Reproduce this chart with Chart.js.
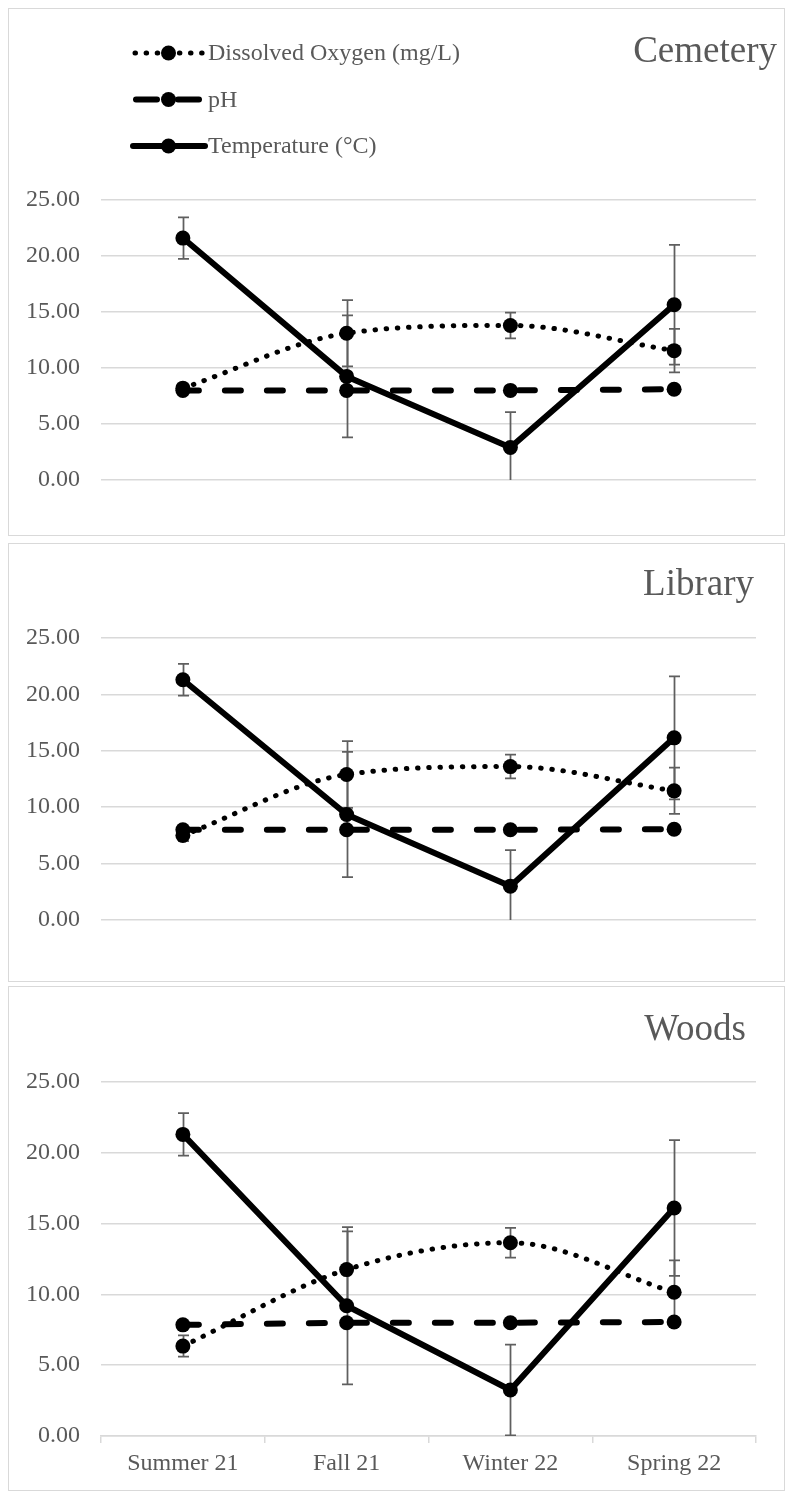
<!DOCTYPE html>
<html>
<head>
<meta charset="utf-8">
<script src="https://cdn.jsdelivr.net/npm/chart.js@4/dist/chart.umd.min.js"></script>
<style>
  html, body { margin: 0; padding: 0; background: #fff; }
  body { width: 787px; height: 1494px; position: relative; overflow: hidden; }
  .panel { position: absolute; left: 8px; width: 777px; }
  .panel canvas { position: absolute; left: 0; top: 0; }
  .frame { position: absolute; inset: 0; border: 1.5px solid #d9d9d9; pointer-events: none; }
</style>
</head>
<body>
<div class="panel" id="p1"><canvas id="c1"></canvas><div class="frame"></div></div>
<div class="panel" id="p2"><canvas id="c2"></canvas><div class="frame"></div></div>
<div class="panel" id="p3"><canvas id="c3"></canvas><div class="frame"></div></div>

<script>
// ---- data ----
const seasons = ['Summer 21', 'Fall 21', 'Winter 22', 'Spring 22'];
const yTickValues = [0, 5, 10, 15, 20, 25];
const seriesNames = ['Dissolved Oxygen (mg/L)', 'pH', 'Temperature (°C)'];
const siteNames = ['Cemetery', 'Library', 'Woods'];

const cemeteryOxygen    = [8.2, 13.1, 13.8, 11.55];
const cemeteryOxygenErr = [0.3, 2.95, 1.15, 1.95];
const cemeteryPH        = [8.0, 8.0, 8.0, 8.1];
const cemeteryPHErr     = [0.1, 0.1, 0.1, 0.1];
const cemeteryTemp      = [21.6, 9.25, 2.9, 15.65];
const cemeteryTempErr   = [1.85, 5.45, 3.15, 5.35];

const libraryOxygen     = [7.5, 12.9, 13.6, 11.45];
const libraryOxygenErr  = [0.5, 2.95, 1.05, 2.05];
const libraryPH         = [8.0, 8.0, 8.0, 8.05];
const libraryPHErr      = [0.1, 0.1, 0.1, 0.1];
const libraryTemp       = [21.3, 9.35, 3.0, 16.15];
const libraryTempErr    = [1.4, 5.55, 3.2, 5.45];

const woodsOxygen       = [6.35, 11.75, 13.65, 10.15];
const woodsOxygenErr    = [0.75, 2.7, 1.05, 2.25];
const woodsPH           = [7.85, 8.0, 8.0, 8.05];
const woodsPHErr        = [0.1, 0.1, 0.1, 0.1];
const woodsTemp         = [21.3, 9.2, 3.25, 16.1];
const woodsTempErr      = [1.5, 5.55, 3.2, 4.8];

// ---- styling ----
const FONT = "'Liberation Serif', 'Times New Roman', serif";
const TEXT = '#595959';
const GRID = '#d9d9d9';
Chart.defaults.font.family = FONT;
Chart.defaults.color = TEXT;

// vertical error bars, drawn beneath the lines and markers
const errorBars = {
  id: 'errorBars',
  beforeDatasetsDraw(chart) {
    const { ctx, chartArea: a, scales: { x, y } } = chart;
    ctx.save();
    ctx.beginPath();
    ctx.rect(a.left, a.top - 2, a.right - a.left, a.bottom - a.top + 2);
    ctx.clip();
    ctx.strokeStyle = '#5f5f5f';
    ctx.lineWidth = 1.75;
    chart.data.datasets.forEach(ds => {
      (ds.errors || []).forEach((e, i) => {
        const v = ds.data[i];
        const px = Math.round(x.getPixelForValue(i)) + 0.5;
        const yt = y.getPixelForValue(v + e);
        const yb = y.getPixelForValue(v - e);
        ctx.beginPath();
        ctx.moveTo(px, yt); ctx.lineTo(px, yb);
        ctx.moveTo(px - 5.5, yt); ctx.lineTo(px + 5.5, yt);
        ctx.moveTo(px - 5.5, yb); ctx.lineTo(px + 5.5, yb);
        ctx.stroke();
      });
    });
    ctx.restore();
  }
};

// site name in the top-right corner and, on the first panel, the series key
const decor = {
  id: 'decor',
  afterDraw(chart, args, opts) {
    const ctx = chart.ctx;
    ctx.save();
    ctx.fillStyle = TEXT;
    ctx.font = '37px ' + FONT;
    ctx.textAlign = 'right';
    ctx.textBaseline = 'alphabetic';
    ctx.fillText(opts.title, opts.titleX, opts.titleY);

    if (opts.legend) {
      const x1 = 125, x2 = 197, mx = 160.5, tx = 200;
      chart.data.datasets
        .slice()
        .sort((p, q) => p.legendRank - q.legendRank)
        .forEach((ds, k) => {
          const yy = 45 + k * 46.5;
          ctx.save();
          ctx.strokeStyle = '#000';
          ctx.lineCap = 'round';
          ctx.lineWidth = ds.borderWidth;
          if (ds.legendDash) ctx.setLineDash(ds.legendDash);
          ctx.beginPath();
          ctx.moveTo(x1 + (ds.legendDashStart || 0), yy);
          ctx.lineTo(x2, yy);
          ctx.stroke();
          ctx.restore();
          ctx.beginPath();
          ctx.fillStyle = '#000';
          ctx.arc(mx, yy, 7.5, 0, Math.PI * 2);
          ctx.fill();
          ctx.fillStyle = TEXT;
          ctx.font = '24px ' + FONT;
          ctx.textAlign = 'left';
          ctx.textBaseline = 'middle';
          ctx.fillText(ds.label, tx, yy + 1);
        });
    }
    ctx.restore();
  }
};

function buildDatasets(oxy, oxyErr, ph, phErr, temp, tempErr) {
  return [
    {
      label: seriesNames[0], data: oxy, errors: oxyErr, legendRank: 0,
      borderColor: '#000', backgroundColor: '#000',
      borderWidth: 5, borderDash: [0.5, 10.7], borderCapStyle: 'round',
      legendDash: [0.5, 10.6], legendDashStart: 2,
      cubicInterpolationMode: 'monotone', order: 3,
      pointRadius: 7.5, pointBorderWidth: 0, pointBackgroundColor: '#000'
    },
    {
      label: seriesNames[1], data: ph, errors: phErr, legendRank: 1,
      borderColor: '#000', backgroundColor: '#000',
      borderWidth: 6, borderDash: [16, 26], borderCapStyle: 'round',
      legendDash: [21, 21], legendDashStart: 3,
      tension: 0, order: 2,
      pointRadius: 7.5, pointBorderWidth: 0, pointBackgroundColor: '#000'
    },
    {
      label: seriesNames[2], data: temp, errors: tempErr, legendRank: 2,
      borderColor: '#000', backgroundColor: '#000',
      borderWidth: 6, borderCapStyle: 'round', borderJoinStyle: 'round',
      tension: 0, order: 1,
      pointRadius: 7.5, pointBorderWidth: 0, pointBackgroundColor: '#000'
    }
  ];
}

function makePanel(n, frame, datasets) {
  const panel = document.getElementById('p' + n);
  panel.style.top = frame.top + 'px';
  panel.style.height = frame.height + 'px';
  const canvas = document.getElementById('c' + n);
  canvas.width = 777;
  canvas.height = frame.height;

  new Chart(canvas, {
    type: 'line',
    data: { labels: seasons, datasets },
    plugins: [errorBars, decor],
    options: {
      responsive: false,
      animation: false,
      devicePixelRatio: 1,
      layout: { padding: { left: 0, right: 29, top: frame.plotTop, bottom: frame.showX ? 0 : frame.height - frame.plotBottom } },
      plugins: {
        legend: { display: false },
        tooltip: { enabled: false },
        decor: { title: frame.title, titleX: frame.titleX, titleY: frame.titleY, legend: frame.legend }
      },
      scales: {
        x: {
          type: 'category',
          offset: true,
          display: frame.showX,
          afterFit(ax) { ax.height = frame.height - frame.plotBottom; },
          grid: { offset: true, drawOnChartArea: false, drawTicks: true, tickLength: 7, color: GRID, lineWidth: 1.5 },
          border: { display: true, color: GRID, width: 1.5 },
          ticks: { font: { size: 24, family: FONT }, color: TEXT, padding: 6, maxRotation: 0 }
        },
        y: {
          min: 0, max: 25,
          afterFit(ax) { ax.width = 93; },
          afterBuildTicks(ax) { ax.ticks = yTickValues.map(v => ({ value: v })); },
          grid: { color: GRID, lineWidth: 1.5, drawTicks: false },
          border: { display: false },
          ticks: {
            font: { size: 24, family: FONT }, color: TEXT, padding: 21,
            callback: v => Number(v).toFixed(2)
          }
        }
      }
    }
  });
}

makePanel(1,
  { top: 8, height: 528, plotTop: 192, plotBottom: 500, showX: false,
    title: siteNames[0], titleX: 769, titleY: 54, legend: true },
  buildDatasets(cemeteryOxygen, cemeteryOxygenErr, cemeteryPH, cemeteryPHErr, cemeteryTemp, cemeteryTempErr));

makePanel(2,
  { top: 543, height: 439, plotTop: 95, plotBottom: 408, showX: false,
    title: siteNames[1], titleX: 746, titleY: 52, legend: false },
  buildDatasets(libraryOxygen, libraryOxygenErr, libraryPH, libraryPHErr, libraryTemp, libraryTempErr));

makePanel(3,
  { top: 986, height: 505, plotTop: 96, plotBottom: 450, showX: true,
    title: siteNames[2], titleX: 738, titleY: 54, legend: false },
  buildDatasets(woodsOxygen, woodsOxygenErr, woodsPH, woodsPHErr, woodsTemp, woodsTempErr));
</script>
</body>
</html>
